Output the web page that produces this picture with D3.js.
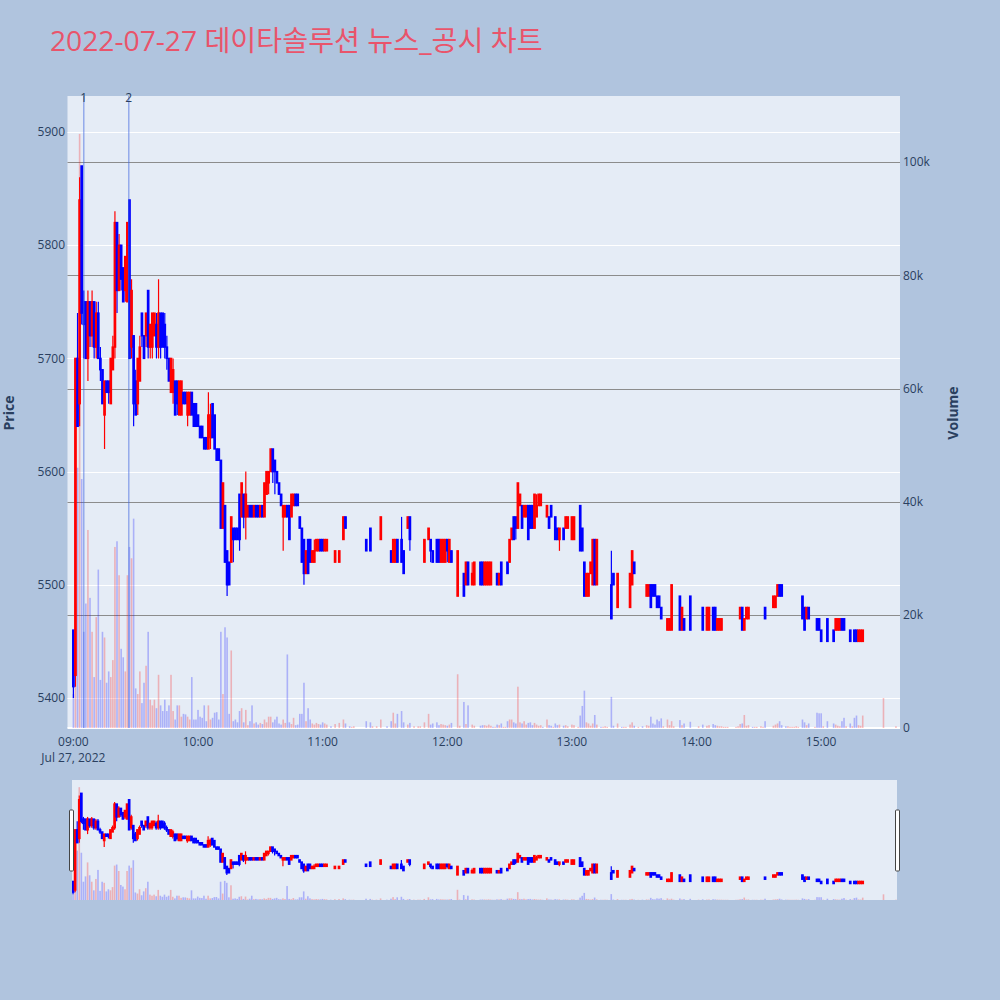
<!DOCTYPE html>
<html>
<head>
<meta charset="utf-8">
<script src="https://cdn.jsdelivr.net/npm/d3@7"></script>
<style>
  body { margin: 0; background: #b0c4de; }
  text { font-family: "Open Sans", "Noto Sans CJK KR", sans-serif; }
</style>
</head>
<body>
<svg id="chart" width="1000" height="1000"></svg>
<script>
// 1-minute bars, 2022-07-27
const times = [
  "09:00","09:01","09:02","09:03","09:04","09:05","09:06","09:07","09:08","09:09",
  "09:10","09:11","09:12","09:13","09:14","09:15","09:16","09:17","09:18","09:19",
  "09:20","09:21","09:22","09:23","09:24","09:25","09:26","09:27","09:28","09:29",
  "09:30","09:31","09:32","09:33","09:34","09:35","09:36","09:37","09:38","09:39",
  "09:40","09:41","09:42","09:43","09:44","09:45","09:46","09:47","09:48","09:49",
  "09:50","09:51","09:52","09:53","09:54","09:55","09:56","09:57","09:58","09:59",
  "10:00","10:01","10:02","10:03","10:04","10:05","10:06","10:07","10:08","10:09",
  "10:10","10:11","10:12","10:13","10:14","10:15","10:16","10:17","10:18","10:19",
  "10:20","10:21","10:22","10:23","10:24","10:25","10:26","10:27","10:28","10:29",
  "10:30","10:31","10:32","10:33","10:34","10:35","10:36","10:37","10:38","10:39",
  "10:40","10:41","10:42","10:43","10:44","10:45","10:46","10:47","10:48","10:49",
  "10:50","10:51","10:52","10:53","10:54","10:55","10:56","10:57","10:58","10:59",
  "11:00","11:01","11:02","11:04","11:06","11:08","11:10","11:11","11:13","11:14",
  "11:15","11:21","11:23","11:24","11:26","11:28","11:31","11:33","11:34","11:35",
  "11:36","11:38","11:39","11:41","11:42","11:44","11:46","11:47","11:49","11:51",
  "11:52","11:53","11:55","11:56","11:57","11:58","11:59","12:00","12:01","12:02",
  "12:05","12:06","12:08","12:09","12:10","12:12","12:13","12:16","12:17","12:18",
  "12:19","12:20","12:21","12:22","12:23","12:24","12:25","12:26","12:27","12:28",
  "12:29","12:30","12:31","12:32","12:33","12:34","12:35","12:36","12:37","12:38",
  "12:39","12:40","12:41","12:42","12:43","12:44","12:45","12:46","12:48","12:49",
  "12:50","12:51","12:52","12:53","12:54","12:56","12:57","12:58","13:00","13:01",
  "13:03","13:04","13:05","13:06","13:07","13:08","13:09","13:10","13:11","13:12",
  "13:14","13:15","13:16","13:17","13:19","13:20","13:22","13:24","13:25","13:26",
  "13:28","13:29","13:30","13:32","13:34","13:36","13:37","13:38","13:39","13:40",
  "13:41","13:42","13:43","13:44","13:46","13:47","13:48","13:49","13:52","13:53",
  "13:54","13:57","14:01","14:03","14:05","14:06","14:08","14:09","14:10","14:11",
  "14:12","14:13","14:14","14:15","14:19","14:20","14:21","14:22","14:23","14:24",
  "14:25","14:27","14:28","14:29","14:31","14:32","14:33","14:37","14:38","14:39",
  "14:40","14:41","14:43","14:44","14:45","14:46","14:47","14:48","14:49","14:51",
  "14:52","14:53","14:54","14:57","14:58","14:59","15:00","15:01","15:03","15:06",
  "15:07","15:08","15:09","15:10","15:11","15:12","15:14","15:15","15:16","15:17",
  "15:18","15:19","15:20","15:30","15:36"
];
const opens = [
  5460,5420,5700,5660,5870,5750,5750,5700,5750,5720,
  5750,5710,5740,5700,5690,5650,5680,5680,5660,5690,
  5710,5820,5760,5800,5780,5760,5750,5840,5710,5720,
  5680,5660,5680,5740,5720,5720,5760,5710,5710,5720,
  5730,5710,5740,5740,5730,5710,5700,5670,5670,5680,
  5680,5650,5650,5670,5670,5650,5650,5670,5660,5660,
  5650,5640,5640,5630,5630,5620,5630,5660,5650,5620,
  5620,5610,5550,5570,5530,5520,5520,5550,5550,5550,
  5580,5560,5580,5560,5560,5570,5570,5560,5570,5570,
  5560,5570,5560,5580,5590,5600,5620,5610,5600,5590,
  5580,5560,5560,5570,5570,5560,5570,5580,5580,5560,
  5550,5540,5510,5540,5540,5520,5520,5530,5530,5540,
  5540,5530,5530,5520,5520,5520,5540,5560,5540,5540,
  5540,5540,5550,5530,5530,5540,5550,5530,5520,5520,
  5540,5540,5530,5550,5560,5540,5540,5540,5520,5540,
  5540,5530,5540,5540,5520,5520,5520,5540,5520,5530,
  5490,5530,5510,5500,5520,5500,5500,5520,5520,5500,
  5500,5500,5500,5500,5500,5510,5500,5520,5520,5520,
  5520,5520,5540,5560,5560,5550,5570,5570,5560,5560,
  5570,5570,5570,5550,5560,5570,5570,5570,5560,5560,
  5570,5560,5560,5550,5540,5550,5550,5550,5540,5540,
  5570,5570,5550,5520,5490,5490,5510,5500,5540,5500,
  5500,5500,5500,5500,5500,5510,5480,5480,5480,5480,
  5480,5500,5520,5520,5490,5490,5490,5500,5500,5500,
  5490,5490,5480,5470,5460,5460,5460,5500,5490,5460,
  5470,5490,5490,5480,5460,5460,5480,5480,5460,5460,
  5460,5470,5470,5470,5480,5480,5470,5480,5460,5470,
  5470,5470,5470,5470,5480,5480,5480,5480,5480,5490,
  5500,5500,5480,5490,5490,5490,5490,5490,5490,5490,
  5480,5470,5480,5470,5470,5470,5460,5470,5470,5460,
  5460,5460,5460,5470,5470,5460,5460,5450,5460,5460,
  5450,5450,5450,5470,5470
];
const highs = [
  5460,5700,5740,5860,5870,5760,5750,5760,5750,5760,
  5750,5750,5750,5710,5690,5680,5680,5680,5700,5720,
  5830,5820,5810,5800,5780,5790,5820,5840,5770,5720,
  5690,5700,5720,5740,5720,5740,5760,5730,5740,5740,
  5740,5770,5740,5740,5740,5720,5700,5700,5700,5680,
  5680,5680,5680,5670,5670,5670,5670,5670,5660,5660,
  5650,5640,5640,5630,5630,5670,5660,5660,5650,5620,
  5620,5610,5590,5570,5530,5520,5560,5550,5550,5550,
  5580,5590,5580,5600,5570,5570,5570,5570,5570,5570,
  5570,5570,5590,5600,5600,5620,5620,5610,5600,5590,
  5580,5570,5570,5570,5570,5580,5580,5580,5580,5560,
  5550,5540,5530,5540,5540,5530,5540,5540,5540,5540,
  5540,5540,5540,5520,5530,5530,5560,5560,5540,5540,
  5540,5540,5550,5530,5530,5560,5550,5530,5540,5540,
  5540,5560,5530,5560,5560,5540,5540,5540,5540,5550,
  5540,5530,5540,5540,5540,5540,5540,5540,5540,5530,
  5530,5530,5510,5520,5520,5520,5520,5520,5520,5520,
  5520,5520,5520,5500,5500,5510,5510,5520,5520,5520,
  5520,5540,5550,5560,5560,5590,5580,5570,5570,5570,
  5570,5570,5570,5580,5580,5580,5580,5570,5570,5560,
  5570,5560,5560,5550,5550,5550,5560,5560,5560,5560,
  5570,5570,5550,5520,5510,5510,5520,5540,5540,5540,
  5500,5500,5500,5500,5530,5510,5510,5480,5480,5480,
  5510,5530,5520,5520,5490,5500,5500,5500,5500,5500,
  5490,5490,5480,5470,5470,5470,5500,5500,5490,5480,
  5470,5490,5490,5480,5480,5480,5480,5480,5470,5470,
  5470,5470,5470,5470,5480,5480,5480,5480,5470,5480,
  5480,5470,5470,5470,5480,5480,5480,5490,5490,5500,
  5500,5500,5480,5490,5490,5490,5490,5490,5490,5490,
  5480,5480,5480,5470,5470,5470,5460,5470,5470,5460,
  5470,5470,5470,5470,5470,5460,5460,5450,5460,5460,
  5460,5460,5460,5470,5470
];
const lows = [
  5400,5410,5640,5640,5730,5700,5700,5680,5710,5710,
  5700,5700,5700,5680,5660,5620,5670,5660,5660,5690,
  5700,5740,5760,5760,5750,5750,5750,5700,5700,5640,
  5650,5650,5680,5710,5700,5710,5700,5700,5700,5720,
  5700,5700,5700,5710,5700,5690,5680,5670,5660,5650,
  5650,5650,5650,5660,5660,5640,5650,5650,5640,5640,
  5640,5630,5630,5620,5620,5620,5620,5630,5620,5610,
  5610,5550,5550,5520,5490,5500,5520,5520,5540,5540,
  5530,5560,5550,5540,5560,5560,5560,5560,5560,5560,
  5560,5560,5560,5580,5580,5600,5590,5580,5590,5580,
  5570,5530,5560,5560,5540,5560,5570,5570,5570,5550,
  5520,5500,5510,5510,5520,5520,5520,5530,5530,5530,
  5530,5530,5530,5520,5520,5520,5540,5550,5540,5540,
  5540,5530,5530,5530,5530,5540,5550,5520,5520,5520,
  5520,5520,5510,5550,5530,5540,5540,5540,5520,5540,
  5520,5520,5520,5520,5520,5520,5520,5520,5520,5520,
  5490,5530,5490,5500,5500,5500,5500,5500,5500,5500,
  5500,5500,5500,5500,5500,5500,5500,5500,5520,5520,
  5510,5520,5540,5540,5540,5550,5570,5550,5560,5560,
  5540,5550,5550,5550,5560,5570,5570,5570,5560,5550,
  5560,5560,5540,5540,5530,5540,5550,5550,5540,5540,
  5570,5530,5530,5490,5490,5490,5510,5500,5500,5500,
  5500,5500,5500,5500,5470,5500,5480,5480,5480,5480,
  5480,5500,5510,5520,5490,5490,5490,5480,5490,5490,
  5480,5480,5470,5470,5460,5460,5460,5500,5460,5460,
  5460,5460,5490,5460,5460,5460,5460,5460,5460,5460,
  5460,5470,5470,5470,5480,5480,5470,5460,5460,5470,
  5470,5470,5470,5470,5480,5480,5470,5480,5480,5490,
  5490,5490,5480,5490,5490,5490,5490,5490,5490,5470,
  5460,5470,5470,5470,5460,5460,5450,5470,5450,5450,
  5460,5460,5460,5460,5460,5460,5450,5450,5450,5450,
  5450,5450,5450,5470,5470
];
const closes = [
  5410,5700,5640,5840,5740,5730,5700,5750,5720,5750,
  5710,5740,5700,5690,5660,5680,5670,5670,5700,5710,
  5820,5760,5800,5770,5750,5790,5820,5700,5760,5660,
  5650,5700,5710,5720,5700,5740,5710,5730,5740,5740,
  5710,5740,5710,5710,5710,5700,5680,5700,5690,5650,
  5660,5680,5680,5660,5660,5670,5670,5650,5640,5640,
  5640,5630,5630,5620,5620,5650,5650,5630,5620,5610,
  5610,5550,5590,5520,5500,5500,5560,5540,5540,5540,
  5540,5590,5560,5580,5570,5560,5560,5570,5560,5560,
  5570,5560,5590,5600,5600,5620,5600,5600,5590,5580,
  5570,5570,5570,5560,5540,5580,5580,5570,5570,5550,
  5520,5510,5530,5510,5520,5530,5530,5540,5540,5530,
  5530,5540,5540,5520,5530,5530,5560,5550,5540,5540,
  5540,5530,5530,5530,5530,5560,5550,5520,5540,5540,
  5520,5520,5510,5560,5540,5540,5540,5540,5540,5550,
  5530,5520,5520,5520,5540,5540,5540,5530,5540,5520,
  5530,5530,5490,5520,5500,5510,5520,5500,5500,5520,
  5520,5520,5520,5500,5500,5500,5510,5500,5520,5520,
  5510,5540,5550,5540,5550,5590,5580,5550,5570,5570,
  5540,5550,5550,5580,5570,5580,5580,5570,5570,5550,
  5560,5560,5540,5540,5550,5540,5560,5560,5560,5560,
  5570,5530,5530,5490,5510,5510,5520,5540,5500,5540,
  5500,5500,5500,5500,5470,5500,5510,5480,5480,5480,
  5510,5530,5510,5520,5490,5500,5500,5480,5490,5490,
  5480,5480,5470,5470,5470,5470,5500,5500,5460,5480,
  5460,5460,5490,5460,5480,5480,5460,5460,5470,5470,
  5470,5470,5470,5470,5480,5480,5480,5460,5470,5480,
  5480,5470,5470,5470,5480,5480,5470,5490,5490,5500,
  5490,5490,5480,5490,5490,5490,5490,5490,5490,5470,
  5460,5480,5470,5470,5460,5460,5450,5470,5450,5450,
  5470,5470,5470,5460,5460,5460,5450,5450,5450,5450,
  5460,5460,5460,5470,5470
];
const volumes = [
  6000,22000,46000,105000,44000,17000,22000,35000,23000,17000,
  9000,19600,28000,8500,17000,16000,8000,10000,9000,12000,
  32000,33000,27000,14000,12500,10000,27000,32000,30000,37000,
  7000,6000,10000,4400,8000,11000,17000,5000,4000,5000,
  3500,9400,4000,3000,5000,3000,4000,9400,3000,1500,
  4000,4000,2000,2500,2400,2000,1500,9000,1500,1500,
  3200,2000,1800,4000,1200,4000,1500,1800,2700,2800,
  1500,17000,6000,17800,16000,2500,13700,1200,1500,1000,
  3000,3500,1000,3200,500,1200,4000,800,1000,600,
  900,700,1500,1000,2000,2000,1000,1500,2000,800,
  600,1500,900,13000,1000,700,1800,500,600,2500,
  2500,8000,1200,3500,1500,800,600,900,700,600,
  1000,800,600,300,700,900,1500,800,300,200,
  300,1200,1000,300,300,1500,300,1200,2700,800,
  2500,3000,1000,600,900,300,300,300,1000,2500,
  600,800,1000,500,700,600,500,400,600,900,
  9500,400,4600,700,4000,600,400,400,500,500,
  400,600,400,200,200,600,500,800,200,200,
  1200,1500,1500,1000,800,7300,1000,800,1200,600,
  900,1000,500,900,600,400,500,200,1500,500,
  400,200,800,500,600,400,500,300,600,500,
  200,2200,3900,6600,1000,800,400,800,2300,600,
  200,200,300,200,5500,400,800,200,200,200,
  600,1000,400,200,300,500,400,2000,800,600,
  1500,1200,1700,300,1500,500,1200,300,1400,500,
  800,1100,300,600,400,500,700,500,400,300,
  300,200,200,200,200,300,700,800,2300,400,
  500,200,200,200,300,200,1200,400,600,800,
  1200,500,300,300,200,200,200,300,200,1500,
  1000,500,800,200,2700,2600,2600,300,1200,800,
  600,400,300,1200,1800,300,800,300,1800,2200,
  500,400,2200,5300,300
];
const priceTicks = [5400, 5500, 5600, 5700, 5800, 5900];
const volumeTicks = [0, 20000, 40000, 60000, 80000, 100000];
const newsMarks = [{ label: "1", time: "09:05:00" }, { label: "2", time: "09:26:40" }];
const titleText = "2022-07-27 데이타솔루션 뉴스_공시 차트";

const parseMin = d3.timeParse("%Y-%m-%d %H:%M");
const parseSec = d3.timeParse("%Y-%m-%d %H:%M:%S");
const bars = times.map((t, i) => ({
  date: parseMin("2022-07-27 " + t),
  o: opens[i], h: highs[i], l: lows[i], c: closes[i], v: volumes[i]
}));
// direction: flat bars follow the previous close
let prevClose = -Infinity;
bars.forEach(d => {
  d.up = d.c > d.o || (d.c === d.o && d.c >= prevClose);
  prevClose = d.c;
});

const UP = "#ff0000", DOWN = "#0000ff";
const UP_V = "rgba(255,0,0,0.25)", DOWN_V = "rgba(0,0,255,0.25)";
const FONT_COLOR = "#2a3f5f";

const svg = d3.select("#chart");
svg.append("rect").attr("width", 1000).attr("height", 1000).attr("fill", "#b0c4de");

svg.append("text").attr("x", 50).attr("y", 51)
  .attr("font-size", 28.2).attr("fill", "#e9546b").text(titleText);

// main plot area
const plot = { left: 67.5, right: 900, top: 96, bottom: 728 };
const x = d3.scaleTime()
  .domain([new Date(2022, 6, 27, 8, 57, 10), new Date(2022, 6, 27, 15, 37, 57)])
  .range([plot.left, plot.right]);
const yP = d3.scaleLinear().domain([5373.5, 5931.8]).range([plot.bottom, plot.top]);
const yV = d3.scaleLinear().domain([0, 111700]).range([plot.bottom, plot.top]);

svg.append("defs").append("clipPath").attr("id", "clipMain")
  .append("rect").attr("x", plot.left).attr("y", plot.top)
  .attr("width", plot.right - plot.left).attr("height", plot.bottom - plot.top);

svg.append("rect").attr("x", plot.left).attr("y", plot.top)
  .attr("width", plot.right - plot.left).attr("height", plot.bottom - plot.top)
  .attr("fill", "#e5ecf6");

// grid
const grid = svg.append("g");
grid.selectAll(".gp").data(priceTicks).join("line")
  .attr("x1", plot.left).attr("x2", plot.right)
  .attr("y1", d => Math.round(yP(d)) + 0.5).attr("y2", d => Math.round(yP(d)) + 0.5)
  .attr("stroke", "#ffffff").attr("stroke-width", 1);
grid.selectAll(".gv").data(volumeTicks.filter(d => d > 0)).join("line")
  .attr("x1", plot.left).attr("x2", plot.right)
  .attr("y1", d => Math.round(yV(d)) + 0.5).attr("y2", d => Math.round(yV(d)) + 0.5)
  .attr("stroke", "#8c8c8c").attr("stroke-width", 1);
grid.append("line").attr("x1", plot.left).attr("x2", plot.right)
  .attr("y1", yV(0)).attr("y2", yV(0)).attr("stroke", "#ffffff").attr("stroke-width", 2);

function drawBars(g, xs, yp, yv, bodyW, volW) {
  g.selectAll(".vol").data(bars).join("rect")
    .attr("x", d => xs(d.date) - volW / 2).attr("width", volW)
    .attr("y", d => yv(d.v)).attr("height", d => yv(0) - yv(d.v))
    .attr("fill", d => d.up ? UP_V : DOWN_V);
  g.selectAll(".wick").data(bars).join("line")
    .attr("x1", d => xs(d.date)).attr("x2", d => xs(d.date))
    .attr("y1", d => yp(d.h)).attr("y2", d => yp(d.l))
    .attr("stroke", d => d.up ? UP : DOWN).attr("stroke-width", 1.2);
  g.selectAll(".body").data(bars).join("rect")
    .attr("x", d => xs(d.date) - bodyW / 2).attr("width", bodyW)
    .attr("y", d => yp(Math.max(d.o, d.c)))
    .attr("height", d => Math.abs(yp(d.o) - yp(d.c)))
    .attr("fill", d => d.up ? UP : DOWN)
    .attr("stroke", d => d.up ? UP : DOWN).attr("stroke-width", 1.4);
}

const mainG = svg.append("g").attr("clip-path", "url(#clipMain)");
drawBars(mainG, x, yP, yV, 1.3, 1.6);

// news markers
const marks = svg.append("g");
newsMarks.forEach(m => {
  const xx = x(parseSec("2022-07-27 " + m.time));
  marks.append("line").attr("x1", xx).attr("x2", xx)
    .attr("y1", plot.top).attr("y2", plot.bottom)
    .attr("stroke", "rgba(65,105,225,0.5)").attr("stroke-width", 1.5);
  marks.append("text").attr("x", xx).attr("y", 102).attr("text-anchor", "middle")
    .attr("font-size", 12).attr("fill", FONT_COLOR).text(m.label);
});

// axes labels
const axisG = svg.append("g").attr("font-size", 12).attr("fill", FONT_COLOR);
axisG.selectAll(".pt").data(priceTicks).join("text")
  .attr("x", 65).attr("y", d => yP(d) + 4.2).attr("text-anchor", "end")
  .attr("fill", FONT_COLOR).text(d => d);
const fmtV = d => d === 0 ? "0" : d3.format("~s")(d);
axisG.selectAll(".vt").data(volumeTicks).join("text")
  .attr("x", 903).attr("y", d => yV(d) + 4.2).attr("text-anchor", "start")
  .attr("fill", FONT_COLOR).text(fmtV);

const hourTicks = d3.timeHour.range(new Date(2022, 6, 27, 9), new Date(2022, 6, 27, 15, 30));
const fmtT = d3.timeFormat("%H:%M");
axisG.selectAll(".xt").data(hourTicks).join("text")
  .attr("x", d => x(d)).attr("y", 746).attr("text-anchor", "middle")
  .attr("fill", FONT_COLOR).text(fmtT);
axisG.append("text").attr("x", x(hourTicks[0])).attr("y", 762).attr("text-anchor", "middle")
  .attr("fill", FONT_COLOR).text(d3.timeFormat("%b %-d, %Y")(hourTicks[0]));

svg.append("text").attr("transform", "translate(14,413) rotate(-90)")
  .attr("text-anchor", "middle").attr("font-size", 14).attr("font-weight", "bold")
  .attr("fill", FONT_COLOR).text("Price");
svg.append("text").attr("transform", "translate(958,413) rotate(-90)")
  .attr("text-anchor", "middle").attr("font-size", 14).attr("font-weight", "bold")
  .attr("fill", FONT_COLOR).text("Volume");

// range slider
const rs = { left: 72, right: 897, top: 780, bottom: 900 };
svg.append("rect").attr("x", rs.left).attr("y", rs.top)
  .attr("width", rs.right - rs.left).attr("height", rs.bottom - rs.top).attr("fill", "#e5ecf6");
svg.select("defs").append("clipPath").attr("id", "clipRs")
  .append("rect").attr("x", rs.left).attr("y", rs.top)
  .attr("width", rs.right - rs.left).attr("height", rs.bottom - rs.top);
const xr = d3.scaleTime()
  .domain([new Date(2022, 6, 27, 8, 59, 30), new Date(2022, 6, 27, 15, 36, 30)])
  .range([rs.left, rs.right]);
const yPr = d3.scaleLinear().domain(yP.domain()).range([rs.bottom, rs.top]);
const yVr = d3.scaleLinear().domain(yV.domain()).range([rs.bottom, rs.top]);
const rsG = svg.append("g").attr("clip-path", "url(#clipRs)");
drawBars(rsG, xr, yPr, yVr, 1.3, 1.6);

[rs.left - 2.5, rs.right - 1.5].forEach(hx => {
  svg.append("rect").attr("x", hx).attr("y", 810).attr("width", 4).attr("height", 61)
    .attr("rx", 1).attr("fill", "#ffffff").attr("stroke", "#444").attr("stroke-width", 1);
});
</script>
</body>
</html>
